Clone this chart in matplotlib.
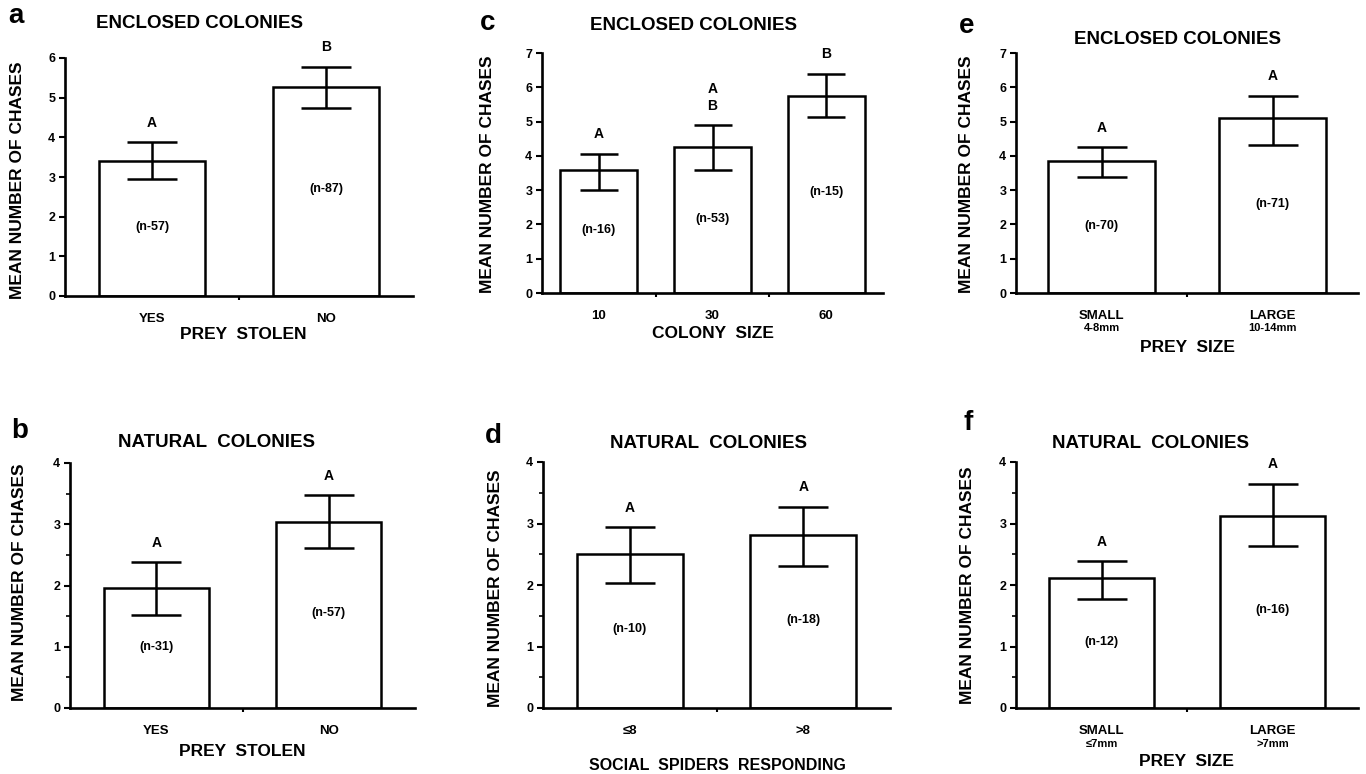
import numpy as np
import matplotlib
matplotlib.use('Agg')
import matplotlib.pyplot as plt
from matplotlib.ticker import MultipleLocator

plt.rcParams['font.family'] = ['Liberation Sans', 'DejaVu Sans']
plt.rcParams['font.weight'] = 'bold'

W, H = 1366, 774

# a - enclosed colonies, prey stolen
cats_a = ['YES', 'NO']
mean_a = [3.40, 5.28]
low_a = [2.94, 4.73]
high_a = [3.87, 5.78]
sig_a = ['A', 'B']
n_a = ['(n-57)', '(n-87)']

# b - natural colonies, prey stolen
cats_b = ['YES', 'NO']
mean_b = [1.96, 3.04]
low_b = [1.52, 2.61]
high_b = [2.38, 3.47]
sig_b = ['A', 'A']
n_b = ['(n-31)', '(n-57)']

# c - enclosed colonies, colony size
cats_c = ['10', '30', '60']
mean_c = [3.60, 4.26, 5.76]
low_c = [3.01, 3.58, 5.13]
high_c = [4.06, 4.89, 6.39]
sig_c = ['A', 'A\nB', 'B']
n_c = ['(n-16)', '(n-53)', '(n-15)']

# d - natural colonies, social spiders responding
cats_d = ['≤8', '>8']
mean_d = [2.51, 2.81]
low_d = [2.04, 2.31]
high_d = [2.94, 3.27]
sig_d = ['A', 'A']
n_d = ['(n-10)', '(n-18)']

# e - enclosed colonies, prey size
cats_e = ['SMALL', 'LARGE']
sub_e = ['4-8mm', '10-14mm']
mean_e = [3.86, 5.10]
low_e = [3.37, 4.32]
high_e = [4.25, 5.75]
sig_e = ['A', 'A']
n_e = ['(n-70)', '(n-71)']

# f - natural colonies, prey size
cats_f = ['SMALL', 'LARGE']
sub_f = ['≤7mm', '>7mm']
mean_f = [2.11, 3.12]
low_f = [1.77, 2.64]
high_f = [2.39, 3.65]
sig_f = ['A', 'A']
n_f = ['(n-12)', '(n-16)']


def rect(x0, y0, x1, y1):
    return [x0 / W, 1 - y1 / H, (x1 - x0) / W, (y1 - y0) / H]


def ftext(fig, x, y, s, **kw):
    fig.text(x / W, 1 - y / H, s, ha='center', va='center', **kw)


def panel(ax, cats, means, low, high, sig, ns, ymax, width, cap,
          minor=False, sub=None):
    x = np.arange(len(cats))
    ax.bar(x, means, width, color='white', edgecolor='black',
           linewidth=1.8, zorder=2)
    yerr = [np.subtract(means, low), np.subtract(high, means)]
    ax.errorbar(x, means, yerr=yerr, fmt='none', ecolor='black',
                elinewidth=1.8, capsize=cap, capthick=1.8, zorder=3)
    for xi, m, h, s, n in zip(x, means, high, sig, ns):
        ax.annotate(s, (xi, h), xytext=(0, 9), textcoords='offset points',
                    ha='center', va='bottom', fontsize=10,
                    fontweight='bold', linespacing=1.3)
        ax.text(xi, m * 0.51, n, ha='center', va='center', fontsize=9)
    ax.set_xlim(-0.5, len(cats) - 0.5)
    ax.set_ylim(0, ymax)
    ax.set_xticks(x)
    ax.set_xticklabels(cats)
    ax.set_xticks(x[:-1] + 0.5, minor=True)
    ax.tick_params(axis='x', which='major', length=0, pad=12, labelsize=9.5)
    ax.tick_params(axis='x', which='minor', length=3, width=1.5)
    ax.set_yticks(range(ymax + 1))
    ax.tick_params(axis='y', which='major', length=4, width=1.5,
                   labelsize=9, pad=3)
    if minor:
        ax.yaxis.set_minor_locator(MultipleLocator(0.5))
        ax.tick_params(axis='y', which='minor', length=3, width=1.2)
    for sp in ['top', 'right']:
        ax.spines[sp].set_visible(False)
    for sp in ['left', 'bottom']:
        ax.spines[sp].set_linewidth(1.9)
    if sub is not None:
        for xi, s in zip(x, sub):
            ax.text(xi, -0.145, s, transform=ax.get_xaxis_transform(),
                    ha='center', va='center', fontsize=8)


fig = plt.figure(figsize=(13.66, 7.74), dpi=100)

ax_a = fig.add_axes(rect(65, 58, 413, 296))
panel(ax_a, cats_a, mean_a, low_a, high_a, sig_a, n_a, 6, 0.61, 18)
ax_c = fig.add_axes(rect(542, 53, 883, 293))
panel(ax_c, cats_c, mean_c, low_c, high_c, sig_c, n_c, 7, 0.68, 14)
ax_e = fig.add_axes(rect(1016, 53, 1358, 293))
panel(ax_e, cats_e, mean_e, low_e, high_e, sig_e, n_e, 7, 0.63, 18,
      sub=sub_e)
ax_b = fig.add_axes(rect(70, 463, 415, 708))
panel(ax_b, cats_b, mean_b, low_b, high_b, sig_b, n_b, 4, 0.61, 18,
      minor=True)
ax_d = fig.add_axes(rect(543, 462, 890, 708))
panel(ax_d, cats_d, mean_d, low_d, high_d, sig_d, n_d, 4, 0.61, 18,
      minor=True)
ax_f = fig.add_axes(rect(1016, 462, 1358, 708))
panel(ax_f, cats_f, mean_f, low_f, high_f, sig_f, n_f, 4, 0.61, 18,
      minor=True, sub=sub_f)

# panel letters
for s, x, y in [('a', 16, 16), ('c', 488, 23), ('e', 967, 26),
                ('b', 20, 431), ('d', 493, 436), ('f', 968, 423)]:
    ftext(fig, x, y, s, fontsize=20, fontweight='bold')

# titles
for s, x, y in [('ENCLOSED COLONIES', 200, 23), ('ENCLOSED COLONIES', 693, 25),
                ('ENCLOSED COLONIES', 1177, 39), ('NATURAL  COLONIES', 217, 442),
                ('NATURAL  COLONIES', 708, 443), ('NATURAL  COLONIES', 1150, 443)]:
    ftext(fig, x, y, s, fontsize=13.5, fontweight='bold')

# y labels
for x, y in [(18, 180), (488, 174), (967, 174), (20, 582), (495, 588), (968, 585)]:
    ftext(fig, x, y, 'MEAN NUMBER OF CHASES', fontsize=12.5,
          fontweight='bold', rotation=90)

# x labels
for s, x, y, fs in [('PREY  STOLEN', 243, 335, 12.5), ('COLONY  SIZE', 713, 333, 12.5),
                    ('PREY  SIZE', 1187, 347, 12.5), ('PREY  STOLEN', 242, 752, 12.5),
                    ('SOCIAL  SPIDERS  RESPONDING', 717, 765, 11.5),
                    ('PREY  SIZE', 1186, 762, 12.5)]:
    ftext(fig, x, y, s, fontsize=fs, fontweight='bold')

fig.savefig('out.png', dpi=100, facecolor='white')
